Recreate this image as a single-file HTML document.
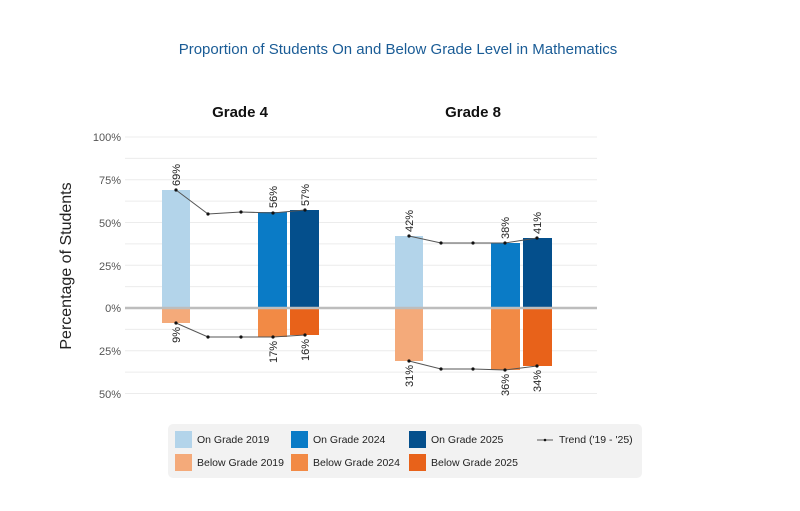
<!DOCTYPE html>
<html><head><meta charset="utf-8"><style>
body{margin:0;background:#fff;width:800px;height:506px;overflow:hidden;font-family:"Liberation Sans",sans-serif}
</style></head><body>
<svg width="800" height="506" xmlns="http://www.w3.org/2000/svg" font-family="Liberation Sans, sans-serif">
<text x="398" y="54" text-anchor="middle" font-size="15" fill="#1a5c96">Proportion of Students On and Below Grade Level in Mathematics</text>
<text x="240" y="117" text-anchor="middle" font-size="15" font-weight="bold" fill="#111">Grade 4</text>
<text x="473" y="117" text-anchor="middle" font-size="15" font-weight="bold" fill="#111">Grade 8</text>
<text transform="translate(71,266) rotate(-90)" text-anchor="middle" font-size="16" fill="#222">Percentage of Students</text>
<g stroke="#ececec" stroke-width="1">
<line x1="125" x2="597" y1="137" y2="137"/><line x1="125" x2="597" y1="158.4" y2="158.4"/>
<line x1="125" x2="597" y1="179.8" y2="179.8"/><line x1="125" x2="597" y1="201.1" y2="201.1"/>
<line x1="125" x2="597" y1="222.5" y2="222.5"/><line x1="125" x2="597" y1="243.9" y2="243.9"/>
<line x1="125" x2="597" y1="265.3" y2="265.3"/><line x1="125" x2="597" y1="286.6" y2="286.6"/>
<line x1="125" x2="597" y1="329.4" y2="329.4"/><line x1="125" x2="597" y1="350.8" y2="350.8"/>
<line x1="125" x2="597" y1="372.1" y2="372.1"/><line x1="125" x2="597" y1="393.5" y2="393.5"/>
</g>
<g font-size="11" fill="#555" text-anchor="end">
<text x="121" y="141">100%</text><text x="121" y="184">75%</text><text x="121" y="227">50%</text>
<text x="121" y="270">25%</text><text x="121" y="312">0%</text><text x="121" y="355">25%</text><text x="121" y="398">50%</text>
</g>
<!-- bars -->
<rect x="162" y="190" width="28" height="118" fill="#b3d4ea"/>
<rect x="162" y="308" width="28" height="15" fill="#f4aa7a"/>
<rect x="258" y="212" width="29" height="96" fill="#0a7bc6"/>
<rect x="258" y="308" width="29" height="29" fill="#f28a45"/>
<rect x="290" y="210" width="29" height="98" fill="#044f8c"/>
<rect x="290" y="308" width="29" height="27" fill="#e8621a"/>
<rect x="395" y="236" width="28" height="72" fill="#b3d4ea"/>
<rect x="395" y="308" width="28" height="53" fill="#f4aa7a"/>
<rect x="491" y="243" width="29" height="65" fill="#0a7bc6"/>
<rect x="491" y="308" width="29" height="62" fill="#f28a45"/>
<rect x="523" y="238" width="29" height="70" fill="#044f8c"/>
<rect x="523" y="308" width="29" height="58" fill="#e8621a"/>
<line x1="125" x2="597" y1="308" y2="308" stroke="#bdbdbd" stroke-width="2.5"/>
<!-- trends -->
<g fill="none" stroke="#555" stroke-width="1">
<polyline points="176,190 208,214 241,212 273,213 305,210"/>
<polyline points="176,323 208,337 241,337 273,337 305,335"/>
<polyline points="409,236 441,243 473,243 505,243 537,238"/>
<polyline points="409,361 441,369 473,369 505,370 537,366"/>
</g>
<g fill="#111">
<circle cx="176" cy="190" r="1.6"/><circle cx="208" cy="214" r="1.6"/><circle cx="241" cy="212" r="1.6"/><circle cx="273" cy="213" r="1.6"/><circle cx="305" cy="210" r="1.6"/>
<circle cx="176" cy="323" r="1.6"/><circle cx="208" cy="337" r="1.6"/><circle cx="241" cy="337" r="1.6"/><circle cx="273" cy="337" r="1.6"/><circle cx="305" cy="335" r="1.6"/>
<circle cx="409" cy="236" r="1.6"/><circle cx="441" cy="243" r="1.6"/><circle cx="473" cy="243" r="1.6"/><circle cx="505" cy="243" r="1.6"/><circle cx="537" cy="238" r="1.6"/>
<circle cx="409" cy="361" r="1.6"/><circle cx="441" cy="369" r="1.6"/><circle cx="473" cy="369" r="1.6"/><circle cx="505" cy="370" r="1.6"/><circle cx="537" cy="366" r="1.6"/>
</g>
<g font-size="11" fill="#222">
<text transform="translate(180,186) rotate(-90)">69%</text>
<text transform="translate(277,208) rotate(-90)">56%</text>
<text transform="translate(309,206) rotate(-90)">57%</text>
<text transform="translate(413,232) rotate(-90)">42%</text>
<text transform="translate(509,239) rotate(-90)">38%</text>
<text transform="translate(541,234) rotate(-90)">41%</text>
<text transform="translate(180,327) rotate(-90)" text-anchor="end">9%</text>
<text transform="translate(277,341) rotate(-90)" text-anchor="end">17%</text>
<text transform="translate(309,339) rotate(-90)" text-anchor="end">16%</text>
<text transform="translate(413,365) rotate(-90)" text-anchor="end">31%</text>
<text transform="translate(509,374) rotate(-90)" text-anchor="end">36%</text>
<text transform="translate(541,370) rotate(-90)" text-anchor="end">34%</text>
</g>
<!-- legend -->
<rect x="168" y="424" width="474" height="54" rx="5" fill="#f2f2f2"/>
<g font-size="10.5" fill="#222">
<rect x="175" y="431" width="17" height="17" fill="#b3d4ea"/><text x="197" y="443">On Grade 2019</text>
<rect x="175" y="454" width="17" height="17" fill="#f4aa7a"/><text x="197" y="466">Below Grade 2019</text>
<rect x="291" y="431" width="17" height="17" fill="#0a7bc6"/><text x="313" y="443">On Grade 2024</text>
<rect x="291" y="454" width="17" height="17" fill="#f28a45"/><text x="313" y="466">Below Grade 2024</text>
<rect x="409" y="431" width="17" height="17" fill="#044f8c"/><text x="431" y="443">On Grade 2025</text>
<rect x="409" y="454" width="17" height="17" fill="#e8621a"/><text x="431" y="466">Below Grade 2025</text>
<line x1="537" x2="553" y1="440" y2="440" stroke="#555"/><circle cx="545" cy="440" r="1.3" fill="#111"/>
<text x="559" y="443">Trend ('19 - '25)</text>
</g>
</svg>
</body></html>
